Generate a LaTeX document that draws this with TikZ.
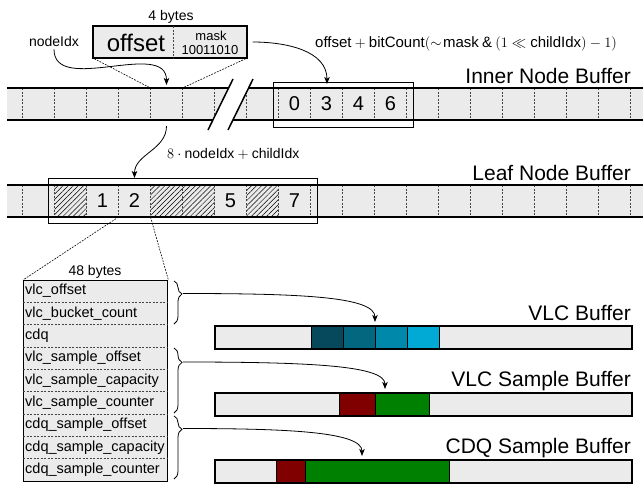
\documentclass[tikz,border=0pt]{standalone}
\usepackage{fontspec}
\setmainfont{Liberation Sans}
\usetikzlibrary{patterns,patterns.meta,decorations.pathreplacing,arrows.meta}
\definecolor{bufgray}{HTML}{EBEBEB}
\definecolor{blueA}{HTML}{06495C}
\definecolor{blueB}{HTML}{03677F}
\definecolor{blueC}{HTML}{0088AA}
\definecolor{blueD}{HTML}{00AAD4}
\definecolor{segred}{HTML}{800000}
\definecolor{seggreen}{HTML}{008000}
\definecolor{sepgray}{HTML}{444444}
\tikzset{
  bufline/.style={line width=1.5pt},
  sep/.style={draw=sepgray, line width=0.8pt, dash pattern=on 2pt off 1.5pt},
  conn/.style={draw=black, line width=0.6pt, dash pattern=on 1.8pt off 1.2pt},
  hl/.style={draw, line width=0.8pt, inner sep=0pt},
  arr/.style={-{Stealth[length=7pt,width=5.5pt,inset=1.8pt]}, line width=0.8pt},
  lbl/.style={font=\fontsize{14}{16}\selectfont, inner sep=0pt},
  small/.style={font=\fontsize{13}{15}\selectfont, inner sep=0pt},
  rowtxt/.style={font=\fontsize{14.5}{16}\selectfont, inner sep=0pt, anchor=west},
  big/.style={font=\fontsize{21}{24}\selectfont, inner sep=0pt},
  num/.style={font=\fontsize{20}{24}\selectfont, inner sep=0pt},
  hatch/.style={pattern={Lines[angle=45,distance=3.6pt,line width=0.5pt]}},
  bar/.style={draw, fill=bufgray, line width=1.4pt, inner sep=0pt, minimum width=416pt, minimum height=22pt},
  barline/.style={draw, line width=1.4pt},
  seg/.style={draw=black, line width=0.6pt},
  bracestyle/.style={decorate, line width=0.8pt, decoration={brace, amplitude=8pt, aspect=#1}},
}
\begin{document}
\begin{tikzpicture}[x=1pt,y=-1pt]
\useasboundingbox (0,0) rectangle (643,483);
% ---------------- inner node buffer
\fill[bufgray] (7,88) rectangle (643,120);
\foreach \k in {0,...,19}{\draw[sep] ({22.5+32*\k},88) -- ({22.5+32*\k},120);}
\draw[bufline] (7,88) -- (643,88) (7,120) -- (643,120);
\fill[white] (233,79) -- (253,79) -- (228,130) -- (208,130) -- cycle;
\draw[bufline] (233,79) -- (208,130) (253,79) -- (228,130);
\node[hl, minimum width=140pt, minimum height=45pt] (innerhl) at (343,104.5) {};
\node[num] (i0) at (294.5,104) {0};
\node[num] (i3) at (326.5,104) {3};
\node[num] (i4) at (358.5,104) {4};
\node[num] (i6) at (390.5,104) {6};
\node[big, anchor=east] (innerlbl) at (631,76) {Inner Node Buffer};
% ---------------- top word
\node[draw, fill=bufgray, line width=1.4pt, minimum width=154pt, minimum height=32pt, inner sep=0pt] (word) at (170,42) {};
\draw[sep] (173,26) -- (173,58);
\node[font=\fontsize{24}{26}\selectfont, inner sep=0pt] (offsettxt) at (136,42.5) {offset};
\node[small] (masktxt) at (211,36) {mask};
\node[small] (masknum) at (210,50) {10011010};
\node[lbl] (bytes4) at (171,17) {4 bytes};
\coordinate (cellL) at (150.5,88);
\coordinate (cellR) at (182.5,88);
\draw[conn] (word.south west) ++(2,0) -- (cellL);
\draw[conn] (word.south east) ++(-2,0) -- (cellR);
\node[lbl] (nodeidx) at (54,41) {nodeIdx};
\coordinate (tipA) at (166.5,85);
\draw[arr] (nodeidx.south) ++(0,3) to[out=-90,in=90] (tipA);
\node[font=\fontsize{15}{17}\selectfont, inner sep=0pt, anchor=west] (formula) at (315,44) {$\mbox{offset} + \mbox{bitCount}(\sim\!\mbox{mask} \mathbin{\&} (1 \ll \mbox{childIdx}) - 1)$};
\coordinate (tipB) at (327,84);
\draw[arr] (word.east) ++(5,0) to[out=0,in=90] (tipB);
% ---------------- leaf node buffer
\fill[bufgray] (7,185) rectangle (643,217);
\foreach \a in {54.5,150.5,182.5,246.5}{\fill[hatch] (\a,185) rectangle ({\a+32},217);}
\foreach \k in {0,...,19}{\draw[sep] ({22.5+32*\k},185) -- ({22.5+32*\k},217);}
\draw[bufline] (7,185) -- (643,185) (7,217) -- (643,217);
\node[hl, minimum width=269pt, minimum height=45pt] (leafhl) at (182.5,200.5) {};
\node[num] (l1) at (102.5,201) {1};
\node[num] (l2) at (134.5,201) {2};
\node[num] (l5) at (230.5,201) {5};
\node[num] (l7) at (294.5,201) {7};
\node[big, anchor=east] (leaflbl) at (631,172.5) {Leaf Node Buffer};
\coordinate (leafstart) at (166.5,126);
\coordinate (tipC) at (134.5,178);
\draw[arr] (leafstart) to[out=-90,in=90] (tipC);
\node[lbl, anchor=west] (leafformula) at (167,153.5) {$8\cdot\mbox{nodeIdx} + \mbox{childIdx}$};
% ---------------- struct
\node[draw, fill=bufgray, line width=1.4pt, minimum width=144pt, minimum height=201pt, inner sep=0pt, anchor=north west] (struct) at (23,280) {};
\foreach \i in {1,...,8}{\draw[sep] (23,{280+22.33*\i}) -- (167,{280+22.33*\i});}
\coordinate (c2L) at (118.5,217);
\coordinate (c2R) at (150.5,217);
\draw[conn] (c2L) -- (struct.north west);
\draw[conn] (c2R) -- (struct.north east);
\node[lbl] (bytes48) at (95,272) {48 bytes};
\foreach \t [count=\i] in {vlc\_offset,vlc\_bucket\_count,cdq,vlc\_sample\_offset,vlc\_sample\_capacity,vlc\_sample\_counter,cdq\_sample\_offset,cdq\_sample\_capacity,cdq\_sample\_counter}{
  \node[rowtxt] (r\i) at (25,{280+22.33*(\i-0.5)}) {\t};
}
% braces
\draw[bracestyle=0.3] (174,281) -- (174,324);
\draw[bracestyle=0.22] (174,348) -- (174,413);
\draw[bracestyle=0.21] (174,416) -- (174,479);
\coordinate (b1) at (183,293.5);
\coordinate (b2) at (183,362);
\coordinate (b3) at (183,428.5);
% ---------------- bars
\node[bar, anchor=north west] (vlcbar) at (215,326) {};
\filldraw[seg, fill=blueA] (311,326) rectangle (343,348);
\filldraw[seg, fill=blueB] (343,326) rectangle (375,348);
\filldraw[seg, fill=blueC] (375,326) rectangle (407,348);
\filldraw[seg, fill=blueD] (407,326) rectangle (439,348);
\draw[barline] (vlcbar.north west) rectangle (vlcbar.south east);
\node[big, anchor=east] (vlclbl) at (631,312.5) {VLC Buffer};

\node[bar, anchor=north west] (vsbar) at (215,393) {};
\filldraw[seg, fill=segred] (339,393) rectangle (375,415);
\filldraw[seg, fill=seggreen] (375,393) rectangle (429,415);
\draw[barline] (vsbar.north west) rectangle (vsbar.south east);
\node[big, anchor=east] (vslbl) at (631,381) {VLC Sample Buffer};

\node[bar, anchor=north west] (csbar) at (215,460) {};
\filldraw[seg, fill=segred] (276,460) rectangle (305,482);
\filldraw[seg, fill=seggreen] (305,460) rectangle (449,482);
\draw[barline] (csbar.north west) rectangle (csbar.south east);
\node[big, anchor=east] (cslbl) at (631,448.5) {CDQ Sample Buffer};

\coordinate (v1) at (375,322);
\coordinate (v2) at (385,389);
\coordinate (v3) at (362,456);
\draw[arr] (b1) .. controls (305,293.5) and (375,297) .. (v1);
\draw[arr] (b2) .. controls (315,362) and (385,366) .. (v2);
\draw[arr] (b3) .. controls (290,428.5) and (362,432) .. (v3);
\end{tikzpicture}
\end{document}
